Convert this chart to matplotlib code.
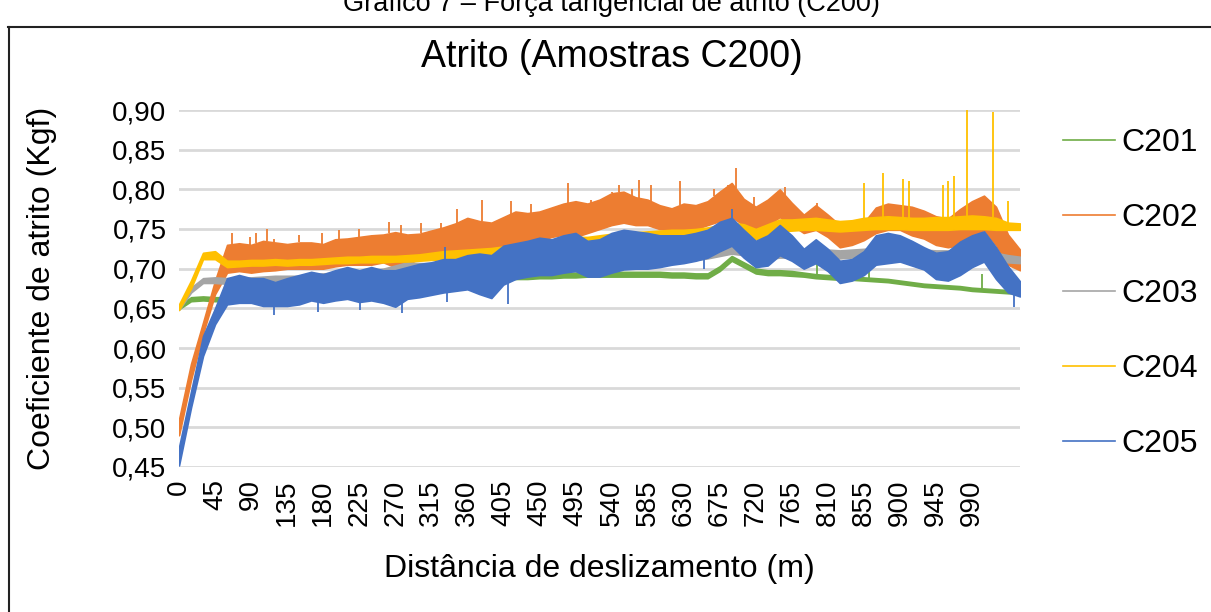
import matplotlib
matplotlib.use("Agg")
import matplotlib.pyplot as plt
import numpy as np
from matplotlib.lines import Line2D

plt.rcParams["font.family"] = ["Liberation Sans", "DejaVu Sans"]

# distance grid (m), every 15 m
distance = list(range(0, 1051, 15))

# each series read as its noise band: lower / upper envelope
c201_lo = [.649, .659, .660, .659, .659, .660, .662, .664, .666, .667, .668, .669, .670, .671, .673, .675,
           .678, .681, .685, .690, .687, .686, .685, .685, .684, .684, .685, .686, .687, .687, .688, .688,
           .689, .689, .690, .690, .690, .690, .690, .690, .690, .689, .689, .688, .688, .697, .710, .702,
           .694, .692, .692, .691, .690, .688, .687, .686, .686, .685, .684, .683, .681, .679, .677, .676,
           .675, .674, .672, .671, .670, .669, .669]
c201_hi = [.653, .664, .665, .664, .664, .665, .667, .669, .671, .672, .673, .674, .675, .676, .678, .680,
           .683, .686, .690, .696, .693, .692, .691, .691, .690, .690, .691, .692, .693, .693, .694, .694,
           .695, .695, .696, .696, .696, .696, .696, .696, .696, .695, .695, .694, .694, .703, .716, .708,
           .700, .698, .698, .697, .695, .693, .692, .691, .690, .689, .688, .687, .685, .683, .681, .680,
           .679, .678, .676, .675, .674, .673, .673]

c202_lo = [.490, .560, .618, .668, .695, .697, .695, .697, .698, .700, .700, .700, .700, .703, .705, .705,
           .705, .708, .702, .705, .713, .715, .715, .718, .720, .720, .725, .728, .733, .735, .735, .740,
           .743, .740, .745, .750, .755, .758, .755, .755, .750, .750, .750, .750, .755, .760, .765, .755,
           .748, .755, .765, .755, .745, .749, .740, .727, .730, .736, .745, .749, .749, .742, .738, .730,
           .727, .730, .740, .749, .730, .705, .698]
c202_hi = [.510, .580, .632, .685, .730, .732, .730, .735, .733, .731, .733, .733, .731, .737, .738, .740,
           .742, .743, .746, .743, .744, .748, .752, .757, .764, .760, .758, .765, .772, .770, .772, .777,
           .782, .785, .782, .787, .795, .797, .790, .787, .780, .776, .782, .780, .785, .797, .808, .788,
           .778, .787, .800, .783, .768, .780, .768, .755, .756, .758, .777, .782, .780, .778, .773, .766,
           .763, .775, .785, .792, .778, .743, .724]

c203_lo = [.648, .670, .682, .682, .681, .681, .682, .683, .684, .684, .684, .686, .687, .688, .689, .690,
           .691, .693, .697, .701, .700, .700, .700, .700, .701, .701, .701, .702, .702, .703, .703, .703,
           .704, .704, .705, .705, .706, .706, .707, .707, .708, .709, .710, .711, .713, .716, .719, .717,
           .712, .712, .714, .714, .713, .714, .714, .713, .714, .715, .716, .716, .716, .715, .714, .713,
           .713, .713, .712, .711, .710, .708, .707]
c203_hi = [.653, .676, .688, .689, .688, .688, .689, .690, .691, .691, .691, .693, .694, .695, .696, .697,
           .698, .700, .704, .708, .707, .707, .708, .708, .708, .709, .709, .710, .710, .711, .711, .711,
           .712, .712, .714, .714, .715, .715, .716, .716, .717, .718, .719, .720, .722, .725, .728, .726,
           .721, .722, .724, .724, .723, .724, .724, .723, .724, .725, .726, .726, .726, .725, .724, .723,
           .723, .723, .722, .721, .720, .717, .715]

c204_lo = [.648, .675, .712, .712, .702, .703, .704, .704, .705, .704, .705, .705, .706, .707, .707, .708,
           .708, .708, .709, .709, .710, .711, .712, .713, .714, .715, .716, .718, .720, .722, .724, .725,
           .727, .728, .728, .730, .732, .733, .734, .735, .736, .737, .737, .738, .740, .742, .745, .744,
           .737, .742, .747, .748, .749, .749, .748, .747, .748, .749, .750, .750, .750, .749, .749, .749,
           .749, .750, .750, .750, .749, .749, .749]
c204_hi = [.655, .685, .720, .722, .710, .710, .711, .711, .712, .711, .712, .712, .713, .714, .715, .715,
           .716, .716, .716, .717, .718, .720, .722, .723, .724, .725, .726, .728, .730, .732, .734, .736,
           .738, .740, .740, .742, .744, .745, .746, .747, .748, .749, .749, .750, .752, .755, .758, .756,
           .750, .756, .762, .762, .763, .764, .762, .760, .761, .764, .765, .766, .765, .764, .764, .765,
           .765, .766, .767, .766, .764, .758, .757]

c205_lo = [.452, .525, .590, .630, .655, .657, .657, .653, .653, .653, .655, .660, .657, .660, .662, .658,
           .660, .657, .652, .662, .664, .667, .670, .672, .674, .668, .663, .680, .687, .690, .692, .692,
           .695, .697, .690, .690, .695, .699, .700, .700, .702, .705, .707, .710, .714, .722, .729, .714,
           .702, .704, .717, .710, .700, .707, .697, .682, .685, .692, .705, .707, .709, .704, .699, .687,
           .685, .692, .702, .709, .687, .670, .665]
c205_hi = [.475, .545, .615, .650, .688, .692, .688, .688, .683, .688, .692, .696, .693, .698, .702, .698,
           .702, .698, .698, .702, .706, .708, .712, .712, .717, .719, .717, .729, .732, .735, .739, .737,
           .742, .745, .735, .737, .745, .749, .747, .745, .742, .742, .742, .745, .749, .759, .764, .749,
           .735, .742, .755, .742, .725, .737, .725, .710, .712, .722, .742, .745, .742, .735, .727, .720,
           .722, .734, .742, .747, .727, .703, .684]

# isolated peaks and dips beyond the bands
c201_spike_x = [797, 861, 1003]
c201_spike_y = [0.713, 0.710, 0.693]
c202_spike_x = [66, 89, 96, 110, 119, 150, 179, 200, 225, 262, 277, 302, 327, 347, 378, 414, 440,
                486, 514, 541, 549, 566, 574, 589, 626, 668, 685, 695, 718, 757, 797]
c202_spike_y = [0.745, 0.740, 0.745, 0.750, 0.738, 0.742, 0.745, 0.749, 0.750, 0.759, 0.755, 0.757,
                0.758, 0.775, 0.787, 0.785, 0.782, 0.808, 0.787, 0.797, 0.806, 0.800, 0.812, 0.805,
                0.810, 0.800, 0.805, 0.827, 0.790, 0.803, 0.783]
c204_spike_x = [855, 879, 904, 911, 954, 960, 968, 984, 1016, 1035]
c204_spike_y = [0.808, 0.820, 0.813, 0.810, 0.805, 0.810, 0.817, 0.900, 0.897, 0.785]
c205_spike_x = [118, 174, 226, 279, 332, 335, 411, 655, 690, 1043]
c205_spike_y = [0.641, 0.645, 0.648, 0.644, 0.727, 0.658, 0.656, 0.700, 0.775, 0.652]

series = [
    ("C201", "#70AD47", c201_lo, c201_hi, c201_spike_x, c201_spike_y),
    ("C202", "#ED7D31", c202_lo, c202_hi, c202_spike_x, c202_spike_y),
    ("C203", "#A5A5A5", c203_lo, c203_hi, [], []),
    ("C204", "#FFC000", c204_lo, c204_hi, c204_spike_x, c204_spike_y),
    ("C205", "#4472C4", c205_lo, c205_hi, c205_spike_x, c205_spike_y),
]

y_ticks = [0.45, 0.50, 0.55, 0.60, 0.65, 0.70, 0.75, 0.80, 0.85, 0.90]
x_ticks = list(range(0, 991, 45))

fig = plt.figure(figsize=(12.11, 6.12), dpi=100)
ax = fig.add_axes([179 / 1211, 1 - 467 / 612, (1020 - 179) / 1211, (467 - 110) / 612])

for yt in y_ticks:
    ax.axhline(yt, color="#d9d9d9", lw=2, zorder=0)

handles = []
for i, (name, color, lo, hi, sx, sy) in enumerate(series):
    ax.fill_between(distance, lo, hi, color=color, lw=1.2, edgecolor=color, zorder=2 + i)
    if sx:
        top = np.interp(sx, distance, hi)
        bottom = np.interp(sx, distance, lo)
        base = np.where(np.array(sy) > top, top, bottom)
        ax.vlines(sx, base, sy, color=color, lw=1.3, zorder=2 + i)
    handles.append(Line2D([], [], color=color, lw=1.2, label=name))

ax.set_xlim(0, 1050)
ax.set_ylim(0.45, 0.90)
ax.set_yticks(y_ticks)
ax.set_yticklabels([f"{v:.2f}".replace(".", ",") for v in y_ticks], fontsize=20)
ax.set_xticks(x_ticks)
ax.set_xticklabels([str(v) for v in x_ticks], rotation=90, fontsize=20)
ax.tick_params(length=0, pad=9)
for s in ax.spines.values():
    s.set_visible(False)

ax.set_xlabel("Distância de deslizamento (m)", fontsize=23, labelpad=20)
ax.set_ylabel("Coeficiente de atrito (Kgf)", fontsize=23, labelpad=40)
fig.text(0.505, 1 - 57 / 612, "Atrito (Amostras C200)", ha="center", va="center", fontsize=27)

fig.legend(handles=handles, loc="upper left", bbox_to_anchor=(1063 / 1211, 1 - 128 / 612),
           frameon=False, fontsize=23, handlelength=1.63, labelspacing=1.42, handletextpad=0.2,
           borderpad=0, borderaxespad=0)

# outer chart frame and the cut-off caption above it
fig.add_artist(Line2D([8 / 1211, 1], [1 - 27 / 612] * 2, color="#222222", lw=1.5))
fig.add_artist(Line2D([9 / 1211] * 2, [0, 1 - 27 / 612], color="#222222", lw=1.5))
fig.text(0.505, 1 - 11 / 612, "Gráfico 7 – Força tangencial de atrito (C200)",
         ha="center", va="baseline", fontsize=19.5)

fig.savefig("out.png", dpi=100)
